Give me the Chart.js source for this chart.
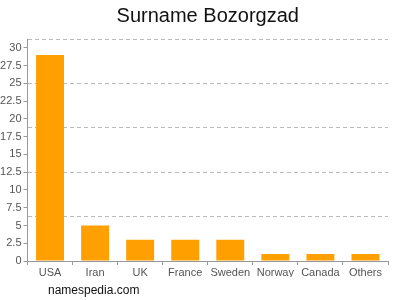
<!DOCTYPE html>
<html>
<head>
<meta charset="utf-8">
<script src="https://cdn.jsdelivr.net/npm/chart.js@4"></script>
<style>
  html, body { margin: 0; padding: 0; background: #fff; }
  #wrap { width: 400px; height: 300px; }
</style>
</head>
<body>
<div id="wrap"><canvas id="c" width="400" height="300"></canvas></div>
<script>
// ---------- data ----------
const countries = ['USA', 'Iran', 'UK', 'France', 'Sweden', 'Norway', 'Canada', 'Others'];
const counts    = [29, 5, 3, 3, 3, 1, 1, 1];
const yTicks    = [0, 2.5, 5, 7.5, 10, 12.5, 15, 17.5, 20, 22.5, 25, 27.5, 30];
const gridLines = [6.25, 12.5, 18.75, 25, 31.25];
const titleText = 'Surname Bozorgzad';
const footText  = 'namespedia.com';

const FONT = '"Liberation Sans", Arial, sans-serif';

// title + footer, centered on the plot area like the original
const textBits = {
  id: 'textBits',
  afterDraw(chart) {
    const { ctx, chartArea } = chart;
    ctx.save();
    ctx.fillStyle = '#111';
    ctx.textAlign = 'center';
    ctx.textBaseline = 'middle';
    ctx.font = '20px ' + FONT;
    ctx.fillText(titleText, (chartArea.left + chartArea.right) / 2, 16);
    ctx.textAlign = 'left';
    ctx.font = '12px ' + FONT;
    ctx.fillText(footText, 48, 291);
    ctx.restore();
  }
};

new Chart(document.getElementById('c'), {
  type: 'bar',
  data: {
    labels: countries,
    datasets: [{
      data: counts,
      backgroundColor: '#ffa000',
      borderWidth: 0,
      categoryPercentage: 0.62,
      barPercentage: 1
    }]
  },
  options: {
    responsive: false,
    animation: false,
    layout: { padding: { top: 39, right: 12, bottom: 23, left: 0 } },
    plugins: { legend: { display: false }, tooltip: { enabled: false } },
    scales: {
      x: {
        grid: { display: true, drawOnChartArea: false, tickLength: 4, color: '#999' },
        border: { color: '#999' },
        ticks: { color: '#555', font: { family: FONT, size: 11 }, padding: 1, maxRotation: 0, autoSkip: false },
        afterFit(s) { s.height = 16; }
      },
      y: {
        min: 0, max: 31.25,
        grid: { display: true, drawOnChartArea: false, tickLength: 4, color: '#999' },
        border: { color: '#999' },
        ticks: { autoSkip: false, color: '#555', font: { family: FONT, size: 11 }, padding: 2 },
        afterBuildTicks(s) { s.ticks = yTicks.map(v => ({ value: v })); },
        afterFit(s) { s.width = 27.5; }
      },
      y2: {
        position: 'left',
        min: 0, max: 31.25,
        grid: { color: '#bbb', drawTicks: false },
        border: { display: false, dash: [4, 3] },
        ticks: { display: false },
        afterBuildTicks(s) { s.ticks = gridLines.map(v => ({ value: v })); },
        afterFit(s) { s.width = 0; }
      }
    }
  },
  plugins: [textBits]
});
</script>
</body>
</html>
